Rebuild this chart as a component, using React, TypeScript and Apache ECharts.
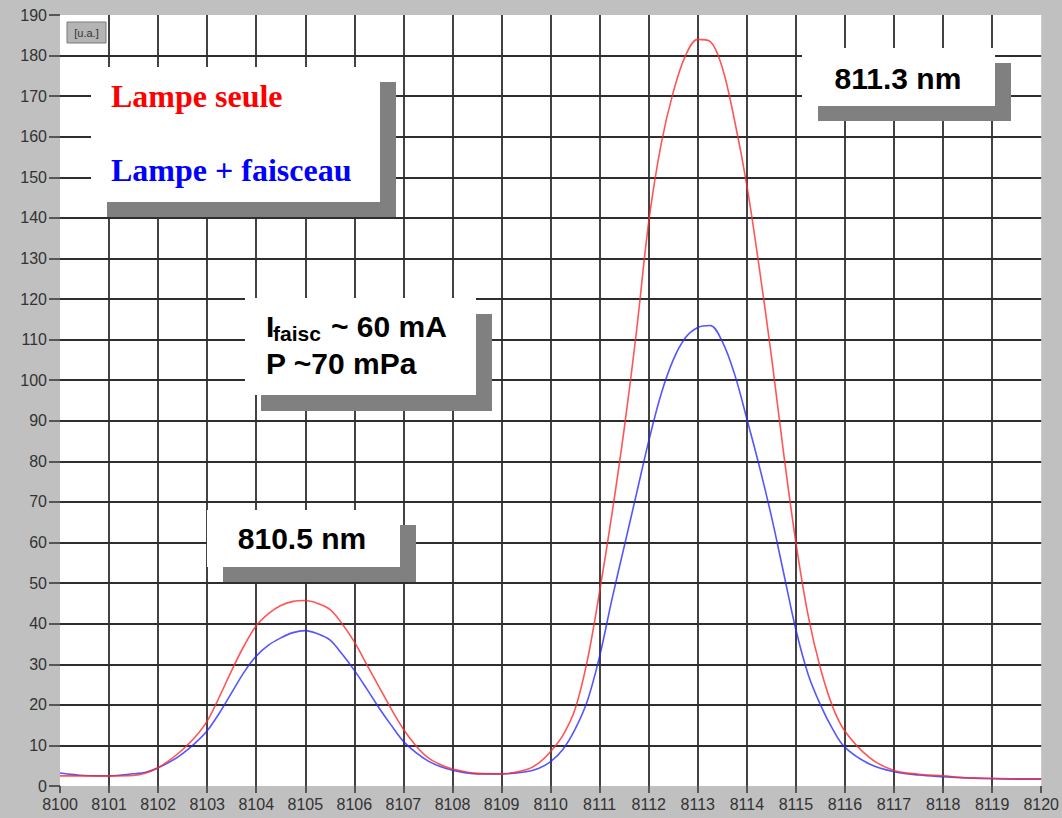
import React, { useEffect, useRef } from "react";
import * as echarts from "echarts";

// Wavelength axis (Å) — sample positions
const X_NM = [
  8100, 8100.5, 8101, 8101.5, 8101.75,
  8102, 8102.25, 8102.5, 8102.75, 8103, 8103.25, 8103.5, 8103.75, 8104, 8104.25, 8104.5, 8104.75,
  8105, 8105.25, 8105.5, 8105.75, 8106, 8106.25, 8106.5, 8106.75, 8107, 8107.25, 8107.5, 8107.75, 8108,
  8108.5, 8109, 8109.5, 8109.75,
  8110, 8110.25, 8110.5, 8110.75, 8111, 8111.25, 8111.5, 8111.75, 8112, 8112.25, 8112.5, 8112.75,
  8113, 8113.25, 8113.5, 8113.75, 8114, 8114.25, 8114.5, 8114.75, 8115, 8115.25, 8115.5, 8115.75, 8116,
  8116.5, 8117, 8117.5, 8118, 8118.5, 8119, 8119.5, 8120,
];

// "Lampe seule" (red)
const LAMPE_SEULE = [
  2.5, 2.5, 2.5, 2.6, 3.2,
  4.5, 6.5, 9, 12, 16, 22, 28.5, 34.5, 39.5, 42.5, 44.5, 45.5,
  45.7, 45, 43.5, 40, 35.5, 30, 24.5, 19, 14, 10, 7, 5.3, 4.2,
  3.1, 3.0, 4.0, 5.6,
  8.5, 12.5, 19, 31, 48, 67, 88, 112, 139, 158, 171, 180,
  184, 183.5, 177, 164, 148, 128, 106, 82, 60, 42, 29, 19.5, 13.5,
  7, 3.8, 2.9, 2.5, 2.0, 1.9, 1.8, 1.8,
];

// "Lampe + faisceau" (blue)
const LAMPE_FAISCEAU = [
  3.2, 2.6, 2.5, 3.0, 3.4,
  4.5, 6, 8, 10.5, 13.6, 18, 23, 28, 32, 34.7, 36.5, 37.8,
  38.3, 37.5, 36, 32.5, 28.5, 24, 19.3, 15, 11, 8.3, 6.2, 4.8, 3.9,
  3.0, 3.0, 3.5, 4.3,
  6.0, 9, 14, 21, 32, 46, 59, 72, 85, 96.5, 105, 110.5,
  113, 113.5, 109.5, 101.5, 90.5, 79, 66.5, 52.5, 38.5, 27.5, 20, 14, 9.5,
  5.4, 3.5, 2.7, 2.3, 2.0, 1.8, 1.7, 1.7,
];

const X_MIN = 8100;
const X_MAX = 8120;
const X_STEP = 1;
const Y_MIN = 0;
const Y_MAX = 190;
const Y_STEP = 10;

const UNIT_LABEL = "[u.a.]";
const LEGEND_RED = "Lampe seule";
const LEGEND_BLUE = "Lampe + faisceau";
const NOTE_I_MAIN = "I";
const NOTE_I_SUB = "faisc";
const NOTE_I_REST = "~ 60 mA";
const NOTE_P = "P ~70 mPa";
const PEAK_RIGHT = "811.3 nm";
const PEAK_LEFT = "810.5 nm";

const SANS = '"Liberation Sans", Arial, sans-serif';
const SERIF = '"Liberation Serif", "Times New Roman", serif';

function pairs(xs: number[], ys: number[]) {
  return xs.map((x, i) => [x, ys[i]]);
}

function shadowBox(x: number, y: number, w: number, h: number, dx: number, dy: number) {
  return [
    { type: "rect", z: 100, shape: { x: x + dx, y: y + dy, width: w, height: h }, style: { fill: "#808080" } },
    { type: "rect", z: 101, shape: { x, y, width: w, height: h }, style: { fill: "#ffffff" } },
  ];
}

function txt(text: string, x: number, y: number, font: string, fill: string, align = "left") {
  return {
    type: "text",
    z: 102,
    style: { text, x, y, font, fill, textAlign: align, textVerticalAlign: "middle" },
  };
}

export default function App() {
  const ref = useRef<HTMLDivElement>(null);

  useEffect(() => {
    if (!ref.current) return;
    const chart = echarts.init(ref.current, undefined, { renderer: "svg" });

    const labelStyle = {
      color: "#333",
      fontSize: 16,
      fontFamily: SANS,
    };

    chart.setOption({
      animation: false,
      backgroundColor: "#c0c0c0",
      grid: {
        left: 60,
        right: 15,
        top: 15,
        bottom: 32,
        show: true,
        backgroundColor: "#ffffff",
        borderWidth: 0,
      },
      xAxis: {
        type: "value",
        min: X_MIN,
        max: X_MAX,
        interval: X_STEP,
        axisLine: { show: false },
        axisTick: { show: true, length: 7, lineStyle: { color: "#333", width: 1.5 } },
        axisLabel: { ...labelStyle, margin: 10, formatter: (v: number) => String(v) },
        splitLine: {
          show: true,
          showMinLine: false,
          showMaxLine: false,
          lineStyle: { color: "#2e2e2e", width: 1.8 },
        },
      },
      yAxis: {
        type: "value",
        min: Y_MIN,
        max: Y_MAX,
        interval: Y_STEP,
        axisLine: { show: false },
        axisTick: { show: true, length: 11, lineStyle: { color: "#333", width: 1.5 } },
        axisLabel: { ...labelStyle, margin: 13, formatter: (v: number) => String(v) },
        splitLine: {
          show: true,
          showMinLine: false,
          showMaxLine: false,
          lineStyle: { color: "#2e2e2e", width: 1.8 },
        },
      },
      series: [
        {
          name: LEGEND_BLUE,
          type: "line",
          data: pairs(X_NM, LAMPE_FAISCEAU),
          smooth: 0.35,
          showSymbol: false,
          lineStyle: { color: "#2a2aff", width: 1.6, opacity: 0.8 },
          z: 3,
        },
        {
          name: LEGEND_RED,
          type: "line",
          data: pairs(X_NM, LAMPE_SEULE),
          smooth: 0.35,
          showSymbol: false,
          lineStyle: { color: "#ff2a2a", width: 1.6, opacity: 0.8 },
          z: 4,
        },
      ],
      graphic: [
        // unit tag
        {
          type: "rect",
          z: 100,
          shape: { x: 67, y: 22, width: 39, height: 21 },
          style: { fill: "#b4b4b4", stroke: "#7a7a7a", lineWidth: 1 },
        },
        txt(UNIT_LABEL, 86.5, 32.5, `11px ${SANS}`, "#333", "center"),

        // legend box
        ...shadowBox(91, 67, 289, 135, 16, 15),
        txt(LEGEND_RED, 111, 96, `bold 32px ${SERIF}`, "#ff0000"),
        txt(LEGEND_BLUE, 111, 170, `bold 32px ${SERIF}`, "#0000ff"),

        // conditions box
        ...shadowBox(245, 298, 231, 97, 16, 16),
        txt(NOTE_I_MAIN, 266, 326.5, `bold 30px ${SANS}`, "#000"),
        txt(NOTE_I_SUB, 273, 333, `bold 21px ${SANS}`, "#000"),
        txt(NOTE_I_REST, 331, 326.5, `bold 30px ${SANS}`, "#000"),
        txt(NOTE_P, 266, 363, `bold 30px ${SANS}`, "#000"),

        // peak labels
        ...shadowBox(802, 48, 193, 58, 16, 15),
        txt(PEAK_RIGHT, 898, 78.5, `bold 30px ${SANS}`, "#000", "center"),
        ...shadowBox(207, 510, 193, 57, 16, 15),
        txt(PEAK_LEFT, 302, 538, `bold 30px ${SANS}`, "#000", "center"),
      ],
    });

    return () => chart.dispose();
  }, []);

  return (
    <div
      ref={ref}
      style={{ position: "fixed", left: 0, top: 0, width: 1062, height: 818 }}
    />
  );
}
